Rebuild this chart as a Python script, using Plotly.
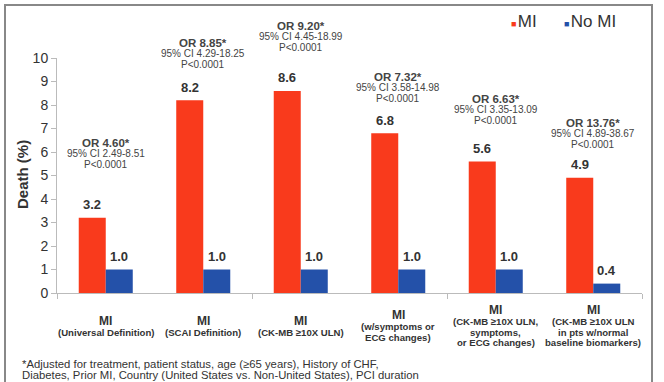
import plotly.graph_objects as go

# ---------------- data ----------------
categories = [
    ["MI", "(Universal Definition)"],
    ["MI", "(SCAI Definition)"],
    ["MI", "(CK-MB ≥10X ULN)"],
    ["MI", "(w/symptoms or", "ECG changes)"],
    ["MI", "(CK-MB ≥10X ULN,", "symptoms,", "or ECG changes)"],
    ["MI", "(CK-MB ≥10X ULN", "in pts w/normal", "baseline biomarkers)"],
]
mi_values = [3.2, 8.2, 8.6, 6.8, 5.6, 4.9]
no_mi_values = [1.0, 1.0, 1.0, 1.0, 1.0, 0.4]
odds_ratios = ["4.60", "8.85", "9.20", "7.32", "6.63", "13.76"]
ci_ranges = ["2.49-8.51", "4.29-18.25", "4.45-18.99", "3.58-14.98", "3.35-13.09", "4.89-38.67"]
p_values = ["P<0.0001"] * 6
series_names = ["MI", "No MI"]
y_ticks = list(range(0, 11))
footnote = [
    "*Adjusted for treatment, patient status, age (≥65 years), History of CHF,",
    "Diabetes, Prior MI, Country (United States vs. Non-United States), PCI duration",
]

# ---------------- layout constants ----------------
W, H = 664, 382
L, R, T, B = 57, 22, 58, 89
PW, PH = W - L - R, H - T - B
RED = "#F93A1C"
BLUE = "#2451A9"
FONT = "Liberation Sans, Arial, sans-serif"
TXT = "#333333"
BARGAP = 0.446
# vertical position (px from top) of the OR label first line for each group
or_label_px = [143, 43, 26, 77, 99, 123]


def py(px):  # pixel-from-top -> paper y
    return (H - B - px) / PH


def pxx(px):  # pixel-from-left -> paper x
    return (px - L) / PW


n = len(mi_values)
xs = list(range(n))

fig = go.Figure()
fig.add_trace(go.Bar(x=xs, y=mi_values, name=series_names[0], marker_color=RED,
                     marker_line_width=0, showlegend=False))
fig.add_trace(go.Bar(x=xs, y=no_mi_values, name=series_names[1], marker_color=BLUE,
                     marker_line_width=0, showlegend=False))

ann = []
half = (1 - BARGAP) / 4  # offset of bar centers from group center
for i in range(n):
    # value labels
    for v, off in ((mi_values[i], -half), (no_mi_values[i], half)):
        ann.append(dict(x=i + off, y=v, xref="x", yref="y", text=f"<b>{v:.1f}</b>",
                        showarrow=False, yanchor="middle", yshift=13,
                        font=dict(family=FONT, size=13, color=TXT)))
    # OR labels
    top = or_label_px[i]
    lines = [(f"<b>OR {odds_ratios[i]}*</b>", 11.5),
             (f"95% CI {ci_ranges[i]}", 10),
             (p_values[i], 10)]
    for k, (t, s) in enumerate(lines):
        ann.append(dict(x=i, y=py(top + 10.8 * k), xref="x", yref="paper", text=t,
                        showarrow=False, yanchor="middle",
                        font=dict(family=FONT, size=s, color="#444444")))
    # category labels
    cl = categories[i]
    nl = len(cl)
    center = 326.5
    ys = []
    first = center - (11.5 + 10.6 * (nl - 2)) / 2
    ys.append(first)
    for k in range(1, nl):
        ys.append(first + 11.5 + 10.6 * (k - 1))
    for k, t in enumerate(cl):
        ann.append(dict(x=i, y=py(ys[k]), xref="x", yref="paper", text=f"<b>{t}</b>",
                        showarrow=False, yanchor="middle",
                        font=dict(family=FONT, size=12 if k == 0 else 9.6, color=TXT)))

# y axis title
ann.append(dict(x=pxx(22), y=py(175), xref="paper", yref="paper", text="<b>Death (%)</b>",
                textangle=-90, showarrow=False, xanchor="center", yanchor="middle",
                font=dict(family=FONT, size=15, color=TXT)))

# footnote
for k, t in enumerate(footnote):
    ann.append(dict(x=pxx(20), y=py(363.5 + 11.5 * k), xref="paper", yref="paper", text=t,
                    showarrow=False, xanchor="left", yanchor="middle",
                    font=dict(family=FONT, size=11.3, color=TXT)))

# legend (custom)
for name, col, xpx in ((series_names[0], RED, 509), (series_names[1], BLUE, 562)):
    ann.append(dict(x=pxx(xpx), y=py(21), xref="paper", yref="paper",
                    text=f'<span style="color:{col};font-size:9px">■</span><span style="font-size:5px"> </span>{name}',
                    showarrow=False, xanchor="left", yanchor="middle",
                    font=dict(family=FONT, size=17, color=TXT)))

fig.update_layout(
    width=W, height=H,
    margin=dict(l=L, r=R, t=T, b=B, autoexpand=False),
    paper_bgcolor="white", plot_bgcolor="white",
    barmode="group", bargap=BARGAP, bargroupgap=0,
    showlegend=False,
    annotations=ann,
    shapes=[dict(type="rect", xref="paper", yref="paper",
                 x0=pxx(5), x1=pxx(652), y0=py(395), y1=py(5),
                 line=dict(color="#888888", width=2), layer="above")],
    xaxis=dict(range=[-0.5, n - 0.5], tickvals=[-0.5, 1.5, 3.5, 5.5], ticktext=["", "", "", ""],
               ticks="outside", ticklen=5, tickcolor="#BBBBBB", showline=True,
               linecolor="#BBBBBB", linewidth=1, showgrid=False, zeroline=False, fixedrange=True),
    yaxis=dict(range=[0, 10], tickvals=y_ticks, ticks="outside", ticklen=5, tickcolor="#BBBBBB",
               showline=True, linecolor="#BBBBBB", linewidth=1, showgrid=False, zeroline=False,
               tickfont=dict(family=FONT, size=14, color=TXT), fixedrange=True),
)

fig.write_html("out.html")
